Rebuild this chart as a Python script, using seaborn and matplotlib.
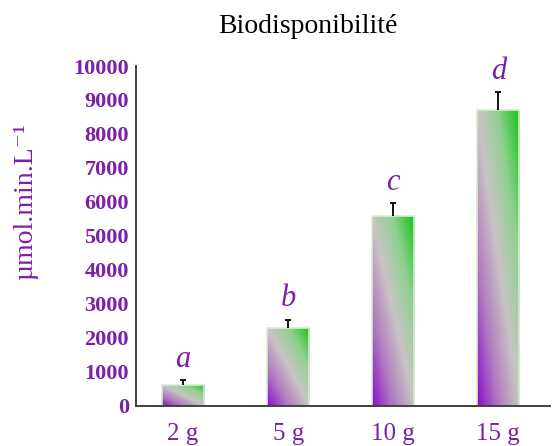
import numpy as np
import pandas as pd
import matplotlib
matplotlib.use("Agg")
import matplotlib.pyplot as plt
from matplotlib.colors import LinearSegmentedColormap
import seaborn as sns

categories = ["2 g", "5 g", "10 g", "15 g"]
values = [620, 2300, 5590, 8700]
errors = [150, 240, 380, 530]
letters = ["a", "b", "c", "d"]
yticks = [0, 1000, 2000, 3000, 4000, 5000, 6000, 7000, 8000, 9000, 10000]

df = pd.DataFrame({"dose": categories, "val": values})

sns.set_theme(style="white")
plt.rcParams["font.family"] = ["Liberation Serif", "DejaVu Serif"]

purple = "#7d1fa8"
fig = plt.figure(figsize=(5.52, 4.46), dpi=100)
ax = fig.add_axes([0.246, 0.09, 0.75, 0.762])

sns.barplot(data=df, x="dose", y="val", ax=ax, width=0.4, color="white",
            edgecolor="#d8ecd0", linewidth=1.2, errorbar=None)

cmap = LinearSegmentedColormap.from_list(
    "pg", ["#8a0fc8", "#b07cc0", "#c8c4c4", "#8ed08e", "#16c316"])
u = np.linspace(0, 1, 60)
U, V = np.meshgrid(u, u)
grad = (U + V) / 2.0
for p in ax.patches:
    x0, y0 = p.get_x(), p.get_y()
    w, h = p.get_width(), p.get_height()
    im = ax.imshow(grad, cmap=cmap, origin="lower", aspect="auto",
                   extent=[x0, x0 + w, y0, y0 + h], zorder=p.get_zorder() + 0.1,
                   interpolation="bilinear")
    im.set_clip_path(p)
    p.set_zorder(p.get_zorder() + 0.2)
    p.set_facecolor("none")

xs = np.arange(len(categories))
tops = np.array(values) + np.array(errors)
ax.vlines(xs, values, tops, color="black", linewidth=1.3, zorder=5)
ax.hlines(tops, xs - 0.03, xs + 0.03, color="black", linewidth=1.3, zorder=5)
for x, t, l in zip(xs, tops, letters):
    ax.text(x, t + 180, l, ha="center", va="bottom", fontsize=22,
            style="italic", color=purple)

ax.set_xlim(-0.45, 3.49)
ax.set_ylim(0, 10000)
ax.set_yticks(yticks)
ax.set_yticklabels([str(t) for t in yticks], color=purple, fontsize=16, fontweight="bold")
ax.set_xticks(xs)
ax.set_xticklabels(categories, color=purple, fontsize=18)
ax.set_xticks([0.5, 1.5, 2.5], minor=True)
ax.tick_params(axis="x", which="major", length=0, pad=12)
ax.tick_params(axis="x", which="minor", length=4, width=1.2, color="#333333", direction="out")
ax.tick_params(axis="y", length=4, width=1, color="#333333", direction="out", pad=1)
for s in ["top", "right"]:
    ax.spines[s].set_visible(False)
for s in ["left", "bottom"]:
    ax.spines[s].set_color("#333333")
    ax.spines[s].set_linewidth(1.3)
ax.set_xlabel("")
ax.set_ylabel("µmol.min.L⁻¹", color=purple, fontsize=20)
ax.yaxis.set_label_coords(-0.235, 0.6)
fig.text(0.558, 0.94, "Biodisponibilité", ha="center", va="center", fontsize=20, color="black")

fig.savefig("out.png", dpi=100)
